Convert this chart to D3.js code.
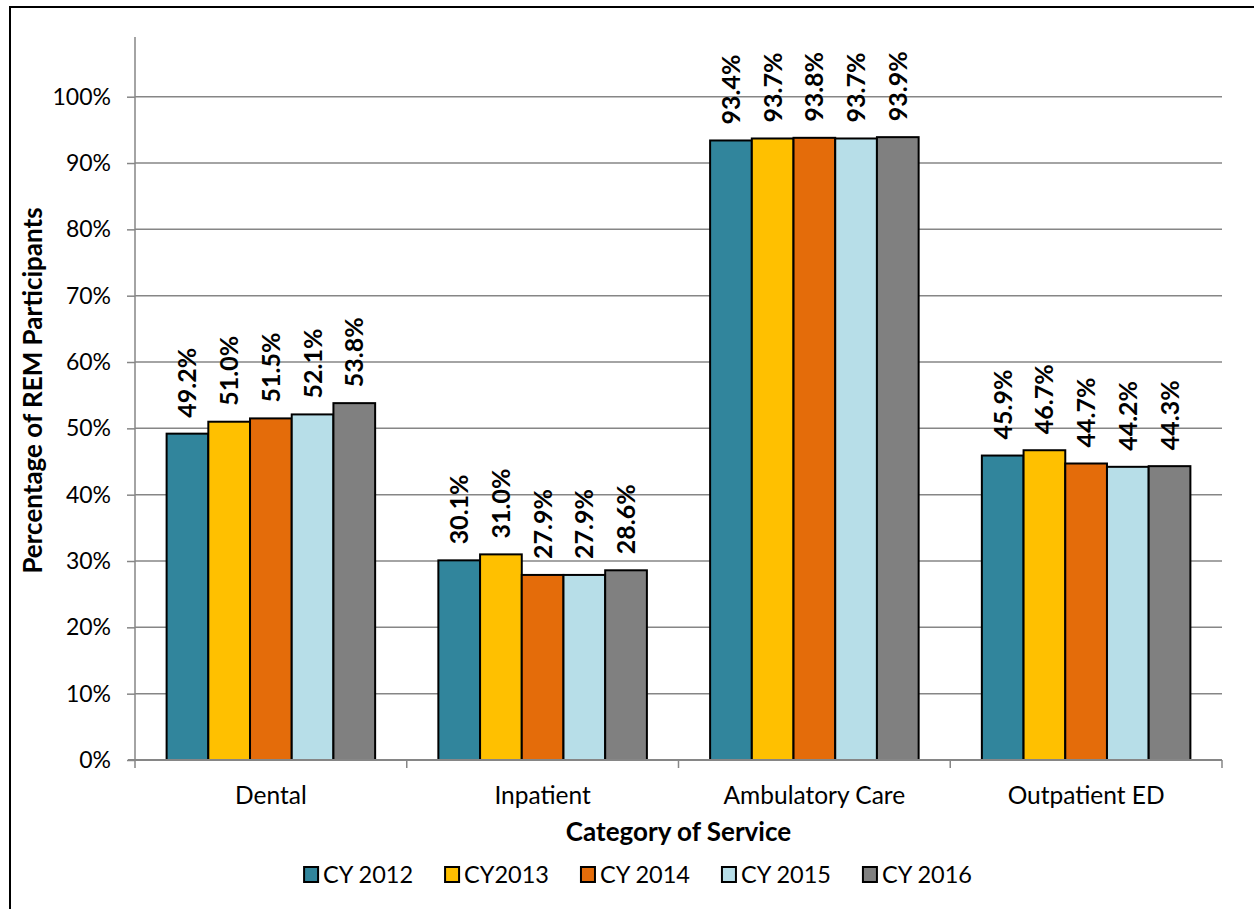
<!DOCTYPE html>
<html>
<head>
<meta charset="utf-8">
<script src="https://cdn.jsdelivr.net/npm/d3@7"></script>
<style>
  html, body { margin: 0; padding: 0; background: #fff; }
  svg { display: block; font-family: Lato, "Open Sans", sans-serif; }
</style>
</head>
<body>
<svg id="chart" width="1254" height="909"></svg>
<script>
const categories = ["Dental", "Inpatient", "Ambulatory Care", "Outpatient ED"];
const seriesNames = ["CY 2012", "CY2013", "CY 2014", "CY 2015", "CY 2016"];
const seriesColors = ["#31859C", "#FFC000", "#E46C0A", "#B7DEE8", "#808080"];
const cy2012 = [49.2, 30.1, 93.4, 45.9];
const cy2013 = [51.0, 31.0, 93.7, 46.7];
const cy2014 = [51.5, 27.9, 93.8, 44.7];
const cy2015 = [52.1, 27.9, 93.7, 44.2];
const cy2016 = [53.8, 28.6, 93.9, 44.3];
const yTicks = [0, 10, 20, 30, 40, 50, 60, 70, 80, 90, 100];
const yTitle = "Percentage of REM Participants";
const xTitle = "Category of Service";

const seriesValues = [cy2012, cy2013, cy2014, cy2015, cy2016];

const svg = d3.select("#chart");

// frame
svg.append("line").attr("x1", 10).attr("x2", 1254).attr("y1", 7).attr("y2", 7)
  .attr("stroke", "#000").attr("stroke-width", 2);
svg.append("line").attr("x1", 10).attr("x2", 10).attr("y1", 6).attr("y2", 909)
  .attr("stroke", "#000").attr("stroke-width", 2);

const pLeft = 135, pRight = 1222, pBottom = 760, pTop = 37;
const y = d3.scaleLinear().domain([0, 109]).range([pBottom, pTop]);
const x0 = d3.scaleBand().domain(categories).range([pLeft, pRight]).padding(0);
const x1 = d3.scaleBand().domain(seriesNames).range([0, x0.bandwidth()])
  .paddingInner(0).paddingOuter(0.758);

const gridColor = "#868686";

// gridlines
svg.append("g").selectAll("line").data(yTicks.filter(d => d > 0)).join("line")
  .attr("x1", pLeft).attr("x2", pRight)
  .attr("y1", d => y(d)).attr("y2", d => y(d))
  .attr("stroke", gridColor).attr("stroke-width", 1.5);

// y axis
const yAxis = svg.append("g").attr("transform", `translate(${pLeft},0)`)
  .call(d3.axisLeft(y).tickValues(yTicks).tickSize(8).tickPadding(16).tickFormat(d => d + "%"));
yAxis.select(".domain").remove();
yAxis.selectAll(".tick line").attr("stroke", gridColor).attr("stroke-width", 1.5);
yAxis.selectAll(".tick text").attr("fill", "#000").style("font-size", "23px")
  .style("font-family", "Lato, sans-serif");
svg.append("line").attr("x1", pLeft).attr("x2", pLeft).attr("y1", pTop).attr("y2", pBottom)
  .attr("stroke", gridColor).attr("stroke-width", 1.5);

// bars
const groups = svg.append("g").selectAll("g").data(categories).join("g")
  .attr("transform", d => `translate(${x0(d)},0)`);

groups.each(function(cat, ci) {
  const g = d3.select(this);
  seriesNames.forEach((s, si) => {
    const v = seriesValues[si][ci];
    g.append("rect")
      .attr("x", x1(s)).attr("width", x1.bandwidth())
      .attr("y", y(v)).attr("height", y(0) - y(v))
      .attr("fill", seriesColors[si]).attr("stroke", "#000").attr("stroke-width", 2);
    const cx = x1(s) + x1.bandwidth() / 2;
    const ty = y(v) - 16;
    g.append("text")
      .attr("transform", `translate(${cx},${ty}) rotate(-90)`)
      .attr("dy", "0.36em")
      .attr("text-anchor", "start")
      .style("font-size", "25px").style("font-weight", "bold")
      .text(v.toFixed(1) + "%");
  });
});

// x axis
svg.append("line").attr("x1", pLeft - 7).attr("x2", pRight).attr("y1", pBottom).attr("y2", pBottom)
  .attr("stroke", gridColor).attr("stroke-width", 2);
const xBounds = categories.map(c => x0(c)).concat([pRight]);
svg.append("g").selectAll("line").data(xBounds).join("line")
  .attr("x1", d => d).attr("x2", d => d).attr("y1", pBottom).attr("y2", pBottom + 8)
  .attr("stroke", gridColor).attr("stroke-width", 1.5);
svg.append("g").selectAll("text").data(categories).join("text")
  .attr("x", d => x0(d) + x0.bandwidth() / 2).attr("y", 804)
  .attr("text-anchor", "middle").style("font-size", "24.5px").text(d => d);

// titles
svg.append("text").attr("x", (pLeft + pRight) / 2).attr("y", 841)
  .attr("text-anchor", "middle").style("font-size", "26px").style("font-weight", "bold")
  .text(xTitle);
svg.append("text").attr("transform", `translate(42,${(pTop + pBottom) / 2 - 8}) rotate(-90)`)
  .attr("text-anchor", "middle").style("font-size", "26px").style("font-weight", "bold")
  .text(yTitle);

// legend
const legend = svg.append("g");
const gap = 32;
const legendItems = seriesNames.map((s, i) => {
  const g = legend.append("g");
  g.append("rect").attr("x", 0).attr("y", -8).attr("width", 14).attr("height", 15)
    .attr("fill", seriesColors[i]).attr("stroke", "#000").attr("stroke-width", 2);
  g.append("text").attr("x", 19).attr("y", 0).attr("dy", "0.36em")
    .style("font-size", "23.5px").text(s);
  return g;
});
function layoutLegend() {
  let lx = 0;
  legendItems.forEach(g => {
    const w = 19 + g.select("text").node().getBBox().width;
    g.attr("transform", `translate(${lx},0)`);
    lx += w + gap;
  });
  const totalW = lx - gap;
  legend.attr("transform", `translate(${638 - totalW / 2},875)`);
}
layoutLegend();
if (document.fonts && document.fonts.ready) document.fonts.ready.then(layoutLegend);
</script>
</body>
</html>
